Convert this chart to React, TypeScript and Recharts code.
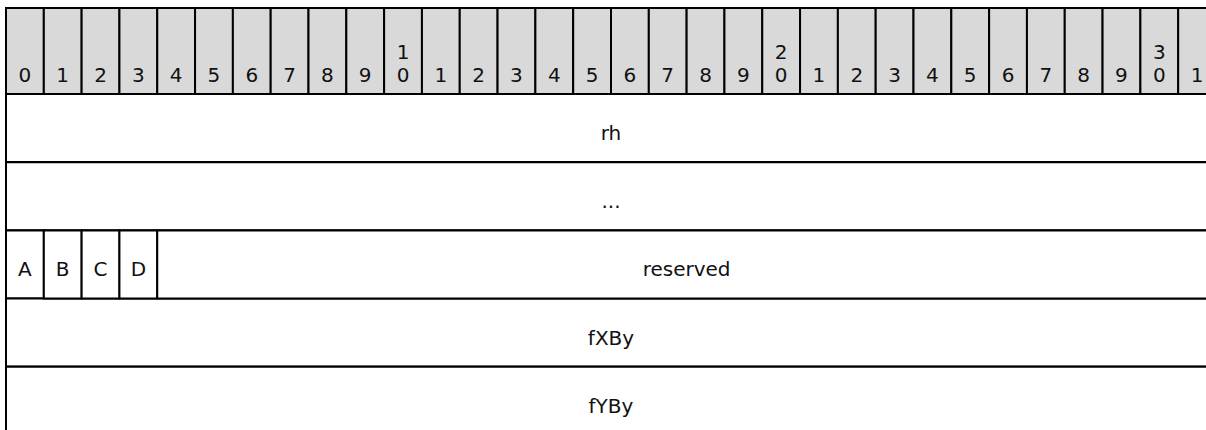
import React from 'react';
import { BarChart, Bar, XAxis, YAxis, LabelList } from 'recharts';

// Header: bit position labels (tens shown only at multiples of ten), each column spans one bit
const bitNumbers = [
  '0', '1', '2', '3', '4', '5', '6', '7', '8', '9',
  '10', '1', '2', '3', '4', '5', '6', '7', '8', '9',
  '20', '1', '2', '3', '4', '5', '6', '7', '8', '9',
  '30', '1',
];
const headerBits = [
  1, 1, 1, 1, 1, 1, 1, 1, 1, 1,
  1, 1, 1, 1, 1, 1, 1, 1, 1, 1,
  1, 1, 1, 1, 1, 1, 1, 1, 1, 1,
  1, 1,
];

// Body rows: field names and their widths in bits
const rowIds = ['rh', 'more', 'flags', 'fXBy', 'fYBy'];
const fieldNames = [
  ['rh'],
  ['...'],
  ['A', 'B', 'C', 'D', 'reserved'],
  ['fXBy'],
  ['fYBy'],
];
const fieldBits = [
  [32],
  [32],
  [1, 1, 1, 1, 28],
  [32],
  [32],
];

const TOTAL_BITS = 32;
const FONT = "Verdana, 'DejaVu Sans', sans-serif";
const FS = 20;
const LINE = 23;
const STROKE = '#000';
const HEADER_FILL = '#d9d9d9';

const headerRow: Record<string, any> = { row: 'bits' };
headerBits.forEach((b, i) => {
  headerRow['b' + i] = b;
  headerRow['t' + i] = bitNumbers[i];
});
const headerData = [headerRow];

const MAX_FIELDS = Math.max(...fieldBits.map((r) => r.length));
const bodyData = fieldBits.map((bits, r) => {
  const o: Record<string, any> = { row: rowIds[r] };
  for (let k = 0; k < MAX_FIELDS; k++) {
    o['f' + k] = bits[k] ?? 0;
    o['n' + k] = fieldNames[r][k] ?? '';
  }
  return o;
});

function rectOf(props: any) {
  const vb = props.viewBox;
  if (vb && typeof vb.width === 'number' && typeof vb.x === 'number') return vb;
  return { x: props.x, y: props.y, width: props.width, height: props.height };
}

const HeaderLabel = (props: any) => {
  const { x, y, width, height } = rectOf(props);
  const text = props.value == null ? '' : String(props.value);
  if (!text || !(width > 0)) return null;
  const cx = x + width / 2;
  const base = y + height - 12;
  const chars = text.split('');
  return (
    <text textAnchor="middle" fontFamily={FONT} fontSize={FS} fill="#111">
      {chars.map((c, i) => (
        <tspan key={i} x={cx} y={base - (chars.length - 1 - i) * LINE}>
          {c}
        </tspan>
      ))}
    </text>
  );
};

const BodyLabel = (props: any) => {
  const { x, y, width, height } = rectOf(props);
  const text = props.value == null ? '' : String(props.value);
  if (!text || !(width > 0)) return null;
  return (
    <text
      x={x + width / 2}
      y={y + height / 2 + 12}
      textAnchor="middle"
      fontFamily={FONT}
      fontSize={FS}
      fill="#111"
    >
      {text}
    </text>
  );
};

const CHART_W = 1222;
const MARGIN_L = 6;
const PLOT_W = 1210;

export default function App() {
  return (
    <div
      style={{
        position: 'absolute',
        left: 0,
        top: 0,
        width: 1206,
        height: 430,
        overflow: 'hidden',
        background: '#fff',
      }}
    >
      <div style={{ position: 'absolute', left: 0, top: 0 }}>
        <BarChart
          width={CHART_W}
          height={96}
          data={headerData}
          layout="vertical"
          barCategoryGap={0}
          barGap={0}
          margin={{ top: 8, left: MARGIN_L, right: CHART_W - MARGIN_L - PLOT_W, bottom: 2 }}
        >
          <XAxis type="number" domain={[0, TOTAL_BITS]} hide />
          <YAxis type="category" dataKey="row" hide />
          {headerBits.map((_, i) => (
            <Bar
              key={i}
              dataKey={'b' + i}
              stackId="h"
              fill={HEADER_FILL}
              stroke={STROKE}
              strokeWidth={2}
              isAnimationActive={false}
            >
              <LabelList dataKey={'t' + i} content={HeaderLabel} />
            </Bar>
          ))}
        </BarChart>
      </div>
      <div style={{ position: 'absolute', left: 0, top: 92 }}>
        <BarChart
          width={CHART_W}
          height={345}
          data={bodyData}
          layout="vertical"
          barCategoryGap={0}
          barGap={0}
          margin={{ top: 2, left: MARGIN_L, right: CHART_W - MARGIN_L - PLOT_W, bottom: 2 }}
        >
          <XAxis type="number" domain={[0, TOTAL_BITS]} hide />
          <YAxis type="category" dataKey="row" hide />
          {Array.from({ length: MAX_FIELDS }).map((_, k) => (
            <Bar
              key={k}
              dataKey={'f' + k}
              stackId="b"
              fill="#fff"
              stroke={STROKE}
              strokeWidth={2}
              isAnimationActive={false}
            >
              <LabelList dataKey={'n' + k} content={BodyLabel} />
            </Bar>
          ))}
        </BarChart>
      </div>
    </div>
  );
}
